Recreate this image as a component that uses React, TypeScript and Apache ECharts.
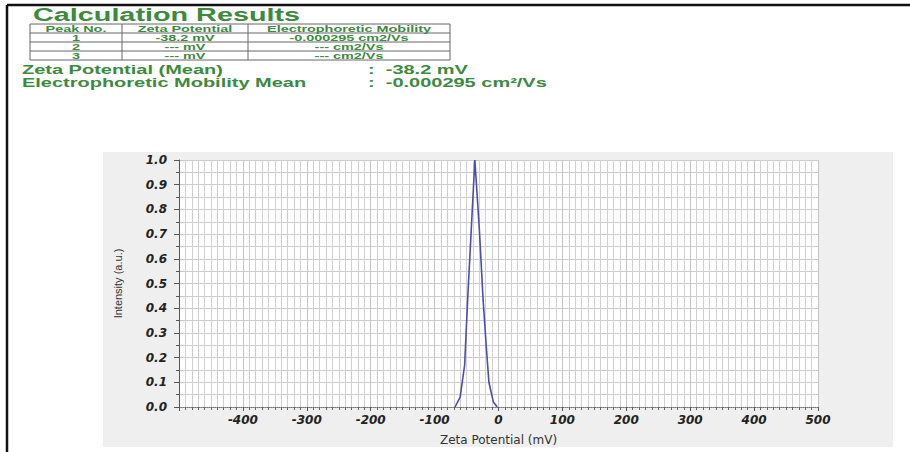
import React, { useEffect, useRef } from "react";
import * as echarts from "echarts";

// ---- data ----
const zetaMv = [-68, -60, -53, -48, -37, -30, -24, -19, -15, -8, -2];
const intensity = [0, 0.04, 0.17, 0.45, 1.0, 0.72, 0.43, 0.24, 0.1, 0.02, 0];

const tableHeaders = ["Peak No.", "Zeta Potential", "Electrophoretic Mobility"];
const peakNos = ["1", "2", "3"];
const peakZeta = ["-38.2 mV", "--- mV", "--- mV"];
const peakMobility = ["-0.000295 cm2/Vs", "--- cm2/Vs", "--- cm2/Vs"];
const meanLabels = ["Zeta Potential (Mean)", "Electrophoretic Mobility Mean"];
const meanValues = ["-38.2 mV", "-0.000295 cm\u00b2/Vs"];

const GREEN = "#3b8a3e";
const SX = 1.6;

export default function App() {
  const ref = useRef<HTMLDivElement>(null);
  useEffect(() => {
    if (!ref.current) return;
    const chart = echarts.init(ref.current, null, { renderer: "svg" });

    // table geometry
    const colX = [30, 122, 248, 450];
    const rowY = [24, 33, 42, 51, 60];
    const graphics: any[] = [];
    // black border
    graphics.push({ type: "line", z: 10, shape: { x1: 7, y1: 5, x2: 910, y2: 5 }, style: { stroke: "#111", lineWidth: 2.5 } });
    graphics.push({ type: "line", z: 10, shape: { x1: 7, y1: 5, x2: 7, y2: 452 }, style: { stroke: "#111", lineWidth: 2.5 } });
    // panel
    graphics.push({ type: "rect", z: -1, shape: { x: 103, y: 152, width: 790, height: 295 }, style: { fill: "#efefef" } });
    // title
    graphics.push({
      type: "text", x: 33, y: 15, scaleX: 1.6,
      style: { text: "Calculation Results", font: "bold 18px 'Liberation Sans', Arial, sans-serif", fill: GREEN, verticalAlign: "middle" },
    });
    // table lines
    rowY.forEach((y) => {
      graphics.push({ type: "line", shape: { x1: colX[0], y1: y, x2: colX[3], y2: y }, style: { stroke: "#666", lineWidth: 1 } });
    });
    colX.forEach((x) => {
      graphics.push({ type: "line", shape: { x1: x, y1: rowY[0], x2: x, y2: rowY[4] }, style: { stroke: "#666", lineWidth: 1 } });
    });
    const cellText = (t: string, col: number, row: number) => {
      const cx = (colX[col] + colX[col + 1]) / 2;
      const cy = (rowY[row] + rowY[row + 1]) / 2;
      graphics.push({
        type: "text", x: cx, y: cy + 0.5, scaleX: SX,
        style: { text: t, font: "bold 9px 'Liberation Sans', Arial, sans-serif", fill: GREEN, align: "center", verticalAlign: "middle" },
      });
    };
    tableHeaders.forEach((h, i) => cellText(h, i, 0));
    peakNos.forEach((t, r) => cellText(t, 0, r + 1));
    peakZeta.forEach((t, r) => cellText(t, 1, r + 1));
    peakMobility.forEach((t, r) => cellText(t, 2, r + 1));
    // means
    const meanY = [70, 83];
    meanLabels.forEach((t, i) => {
      graphics.push({
        type: "text", x: 22, y: meanY[i], scaleX: SX,
        style: { text: t, font: "bold 12.5px 'Liberation Sans', Arial, sans-serif", fill: GREEN, verticalAlign: "middle" },
      });
      graphics.push({
        type: "text", x: 368, y: meanY[i], scaleX: SX,
        style: { text: ":  " + meanValues[i], font: "bold 12.5px 'Liberation Sans', Arial, sans-serif", fill: GREEN, verticalAlign: "middle" },
      });
    });

    const tickFont = {
      fontFamily: "'DejaVu Sans', sans-serif",
      fontWeight: "bold" as const,
      fontStyle: "italic" as const,
      fontSize: 12,
      color: "#222",
    };

    chart.setOption({
      animation: false,
      backgroundColor: "#ffffff",
      graphic: graphics,
      grid: {
        left: 179, right: 92, top: 160, bottom: 45,
        show: true, backgroundColor: "#ffffff", borderWidth: 0,
      },
      xAxis: {
        type: "value",
        min: -500, max: 500, interval: 100,
        name: "Zeta Potential (mV)",
        nameLocation: "middle",
        nameGap: 27,
        nameTextStyle: { fontFamily: "'DejaVu Sans', sans-serif", fontSize: 12, color: "#333" },
        axisLine: { show: true, onZero: false, lineStyle: { color: "#777", width: 1, type: "dotted" } },
        axisTick: { show: true, length: 4, lineStyle: { color: "#555" } },
        minorTick: { show: true, splitNumber: 10, length: 3, lineStyle: { color: "#666" } },
        axisLabel: { ...tickFont, margin: 7, formatter: (v: number) => (v === -500 ? "" : String(v)) },
        splitLine: { show: true, lineStyle: { color: "#c4c4c4", width: 1 } },
        minorSplitLine: { show: true, lineStyle: { color: "#d0d0d0", width: 1 } },
      },
      yAxis: {
        type: "value",
        min: 0, max: 1, interval: 0.1,
        name: "Intensity (a.u.)",
        nameLocation: "middle",
        nameGap: 56,
        nameTextStyle: { fontFamily: "'Liberation Sans Narrow', 'Liberation Sans', sans-serif", fontSize: 11, color: "#333" },
        axisLine: { show: true, onZero: false, lineStyle: { color: "#555", width: 1 } },
        axisTick: { show: true, length: 5, lineStyle: { color: "#555" } },
        minorTick: { show: true, splitNumber: 2, length: 3, lineStyle: { color: "#555" } },
        axisLabel: { ...tickFont, margin: 12, formatter: (v: number) => v.toFixed(1) },
        splitLine: { show: true, lineStyle: { color: "#cccccc", width: 1 } },
        minorSplitLine: { show: true, lineStyle: { color: "#cccccc", width: 1 } },
      },
      series: [
        {
          type: "line",
          data: zetaMv.map((x, i) => [x, intensity[i]]),
          showSymbol: false,
          lineStyle: { color: "#4c4cb0", width: 1.6 },
          itemStyle: { color: "#4c4cb0" },
          z: 5,
        },
      ],
    });
    return () => chart.dispose();
  }, []);
  return (
    <div
      ref={ref}
      style={{ position: "fixed", left: 0, top: 0, width: 910, height: 452, background: "#fff" }}
    />
  );
}
